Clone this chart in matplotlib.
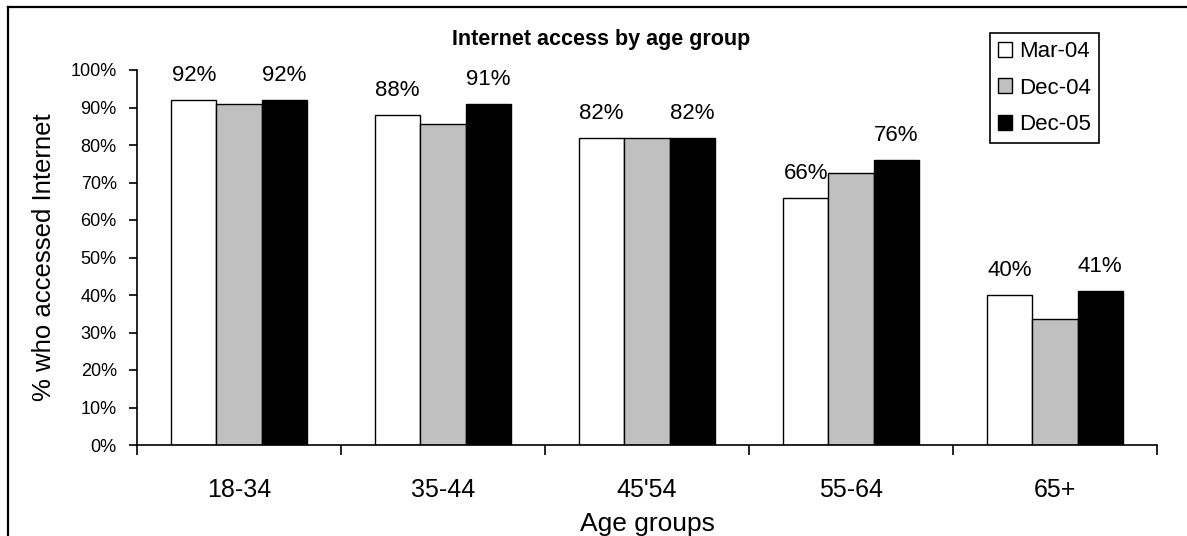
import matplotlib
matplotlib.use("Agg")
import matplotlib.pyplot as plt
from matplotlib.lines import Line2D
import numpy as np

plt.rcParams['font.family'] = ['Liberation Sans', 'DejaVu Sans']

# survey results, share of each age group that accessed the Internet
groups = ['18-34', '35-44', "45'54", '55-64', '65+']
periods = ['Mar-04', 'Dec-04', 'Dec-05']
mar04 = [92, 88, 82, 66, 40]
dec04 = [91, 85.5, 82, 72.5, 33.5]
dec05 = [92, 91, 82, 76, 41]
series = [mar04, dec04, dec05]
fills = ['white', '#c0c0c0', 'black']
labelled = [True, False, True]

W, H = 1187, 536
fig = plt.figure(figsize=(W / 100, H / 100), dpi=100)
ax = fig.add_axes([137 / W, 1 - 445 / H, 1020 / W, 375 / H])

x = np.arange(len(groups))
bw = 0.222
for i, (vals, fc, lab) in enumerate(zip(series, fills, labelled)):
    pos = x + (i - 1) * bw
    ax.bar(pos, vals, width=bw, color=fc, edgecolor='black', linewidth=1.0,
           label=periods[i])
    if lab:
        for xp, v in zip(pos, vals):
            ax.annotate(f'{v:.0f}%', (xp, v), xytext=(0, 13.5),
                        textcoords='offset points', ha='center', va='baseline',
                        fontsize=16, annotation_clip=False)

ax.set_xlim(-0.5, len(groups) - 0.5)
ax.set_ylim(0, 100)
ax.set_yticks(range(0, 101, 10))
ax.set_yticklabels([f'{t}%' for t in range(0, 101, 10)])
ax.tick_params(axis='y', direction='out', length=6, width=1.2, pad=8.5,
               labelsize=13)

# category boundaries get the ticks, group names sit between them
ax.set_xticks(np.arange(-0.5, len(groups), 1.0))
ax.set_xticklabels([])
ax.set_xticks(x, minor=True)
ax.set_xticklabels(groups, minor=True)
ax.tick_params(axis='x', which='major', direction='out', length=7, width=1.2)
ax.tick_params(axis='x', which='minor', length=0, pad=24, labelsize=18)

for s in ['top', 'right']:
    ax.spines[s].set_visible(False)
for s in ['left', 'bottom']:
    ax.spines[s].set_linewidth(1.2)

fig.text(601.5 / W, 1 - 45 / H, 'Internet access by age group',
         fontsize=15.5, fontweight='bold', ha='center', va='baseline')
fig.text(647 / W, 1 - 531 / H, 'Age groups', fontsize=19,
         ha='center', va='baseline')
fig.text(44 / W, 1 - 257 / H, '% who accessed Internet', fontsize=18.5,
         rotation=90, ha='center', va='center')

leg = ax.legend(loc='upper left', bbox_to_anchor=(990 / W, 1 - 33 / H),
                bbox_transform=fig.transFigure, borderaxespad=0,
                fontsize=16, frameon=True, fancybox=False, framealpha=1,
                edgecolor='black', handlelength=0.65, handleheight=0.65,
                handletextpad=0.28, labelspacing=0.7, borderpad=0.36)
leg.get_frame().set_linewidth(1.2)

# outer frame along the left and top edges
fig.add_artist(Line2D([8 / W, 8 / W], [0, 1 - 7 / H], color='black',
                      linewidth=1.6, transform=fig.transFigure))
fig.add_artist(Line2D([8 / W, 1], [1 - 7 / H, 1 - 7 / H], color='black',
                      linewidth=1.6, transform=fig.transFigure))

fig.savefig('out.png', dpi=100)
